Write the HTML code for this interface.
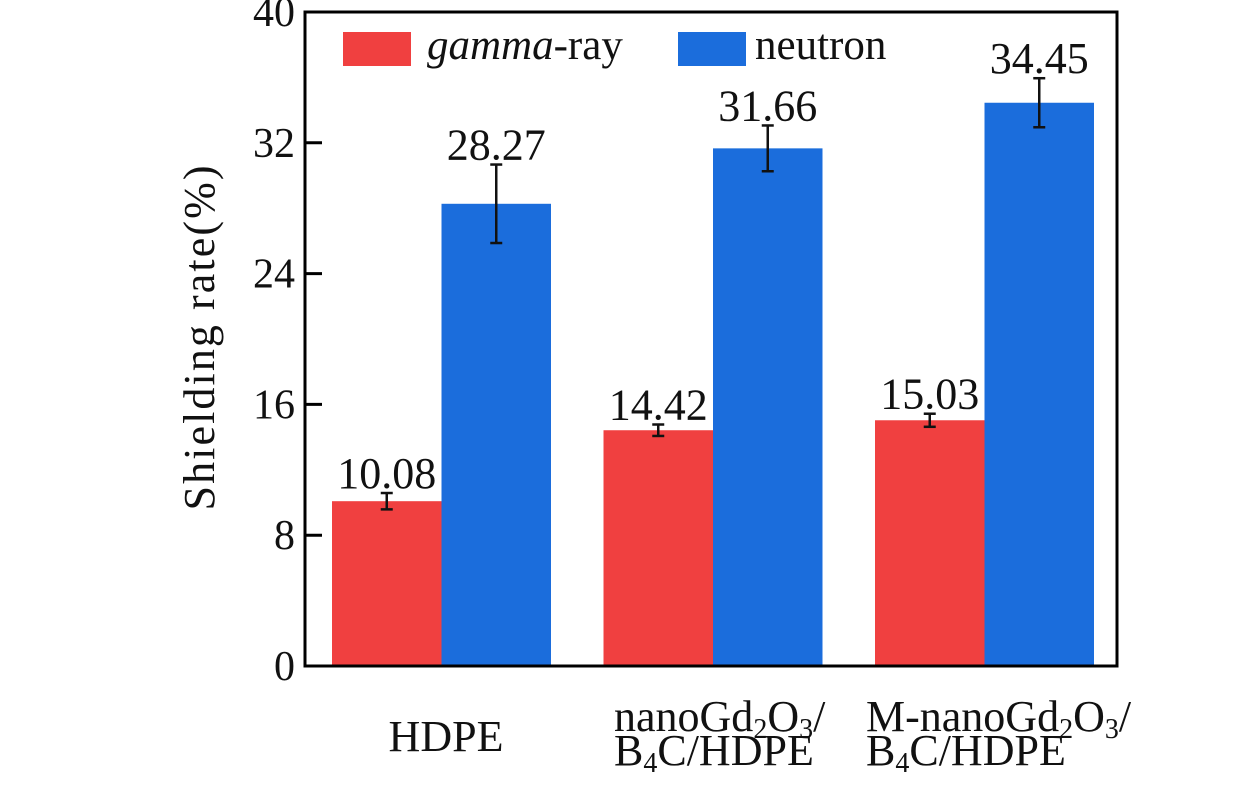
<!DOCTYPE html>
<html><head><meta charset="utf-8"><style>
html,body{margin:0;padding:0;background:#fff;}
svg{display:block;font-family:"Liberation Serif",serif;}
</style></head><body>
<svg id="chart" width="1260" height="803" viewBox="0 0 1260 803">
<g id="bars"></g>
<g id="axes"></g>
<g>
  <rect x="343" y="32" width="68" height="34" fill="#f04040"/>
  <text x="427" y="59" font-size="43" fill="#111"><tspan font-style="italic">gamma</tspan>-ray</text>
  <rect x="678" y="32" width="68" height="34" fill="#1b6ddc"/>
  <text x="755" y="59" font-size="43" fill="#111">neutron</text>
</g>
<text transform="translate(214,338) rotate(-90)" text-anchor="middle" font-size="44" textLength="345" lengthAdjust="spacing" fill="#111">Shielding rate(%)</text>
<g font-size="44" fill="#111">
  <text x="446" y="751" text-anchor="middle">HDPE</text>
  <text x="614" y="731">nanoGd<tspan font-size="28" dy="7">2</tspan><tspan dy="-7">O</tspan><tspan font-size="28" dy="7">3</tspan><tspan dy="-7">/</tspan></text>
  <text x="614" y="765">B<tspan font-size="28" dy="7">4</tspan><tspan dy="-7">C/HDPE</tspan></text>
  <text x="866" y="731">M-nanoGd<tspan font-size="28" dy="7">2</tspan><tspan dy="-7">O</tspan><tspan font-size="28" dy="7">3</tspan><tspan dy="-7">/</tspan></text>
  <text x="866" y="765">B<tspan font-size="28" dy="7">4</tspan><tspan dy="-7">C/HDPE</tspan></text>
</g>
</svg>
<script>
const categories = ["HDPE", "nanoGd2O3/B4C/HDPE", "M-nanoGd2O3/B4C/HDPE"];
const gammaValues = [10.08, 14.42, 15.03];
const gammaErrors = [0.5, 0.35, 0.4];
const neutronValues = [28.27, 31.66, 34.45];
const neutronErrors = [2.4, 1.4, 1.5];
const yTicks = [0, 8, 16, 24, 32, 40];

const NS = "http://www.w3.org/2000/svg";
const plot = {left:305, right:1117, top:12, bottom:666};
const yMin = 0, yMax = 40;
function yScale(v){ return plot.bottom - (v - yMin) / (yMax - yMin) * (plot.bottom - plot.top); }
const groupStart = 332, groupStep = 271.5, barW = 109.5;
function xBar(i, s){ return groupStart + i * groupStep + s * barW; }
function mk(tag, attrs, parent){ const e = document.createElementNS(NS, tag); for (const k in attrs) e.setAttribute(k, attrs[k]); parent.appendChild(e); return e; }

const bars = document.getElementById('bars');
const axes = document.getElementById('axes');
const series = [
  {vals: gammaValues, errs: gammaErrors, color: '#f04040', key: 'gamma'},
  {vals: neutronValues, errs: neutronErrors, color: '#1b6ddc', key: 'neutron'}
];
series.forEach((s, si) => {
  categories.forEach((c, i) => {
    const x = xBar(i, si), v = s.vals[i], e = s.errs[i];
    const r = mk('rect', {x: x, y: yScale(v), width: barW, height: plot.bottom - yScale(v), fill: s.color}, bars);
    
    
    const cx = x + barW / 2;
    const g = mk('g', {stroke: '#111', 'stroke-width': 2.5}, bars);
    
    
    mk('line', {x1: cx, x2: cx, y1: yScale(v + e), y2: yScale(v - e)}, g);
    mk('line', {x1: cx - 6, x2: cx + 6, y1: yScale(v + e), y2: yScale(v + e)}, g);
    mk('line', {x1: cx - 6, x2: cx + 6, y1: yScale(v - e), y2: yScale(v - e)}, g);
    const t = mk('text', {x: cx, y: yScale(v + e) - 5, 'text-anchor': 'middle', 'font-size': 44, fill: '#111'}, bars);
    t.textContent = v.toFixed(2);
    
    
  });
});
const frame = mk('rect', {x: plot.left, y: plot.top, width: plot.right - plot.left, height: plot.bottom - plot.top, fill: 'none', stroke: '#000', 'stroke-width': 3}, axes);


yTicks.forEach(v => {
  const y = yScale(v);
  const l = mk('line', {x1: plot.left, x2: plot.left + 17, y1: y, y2: y, stroke: '#000', 'stroke-width': 3}, axes);
  
  
  const t = mk('text', {x: 295, y: y + 14, 'text-anchor': 'end', 'font-size': 42, fill: '#111'}, axes);
  t.textContent = v;
  
  
});
</script>
</body></html>
